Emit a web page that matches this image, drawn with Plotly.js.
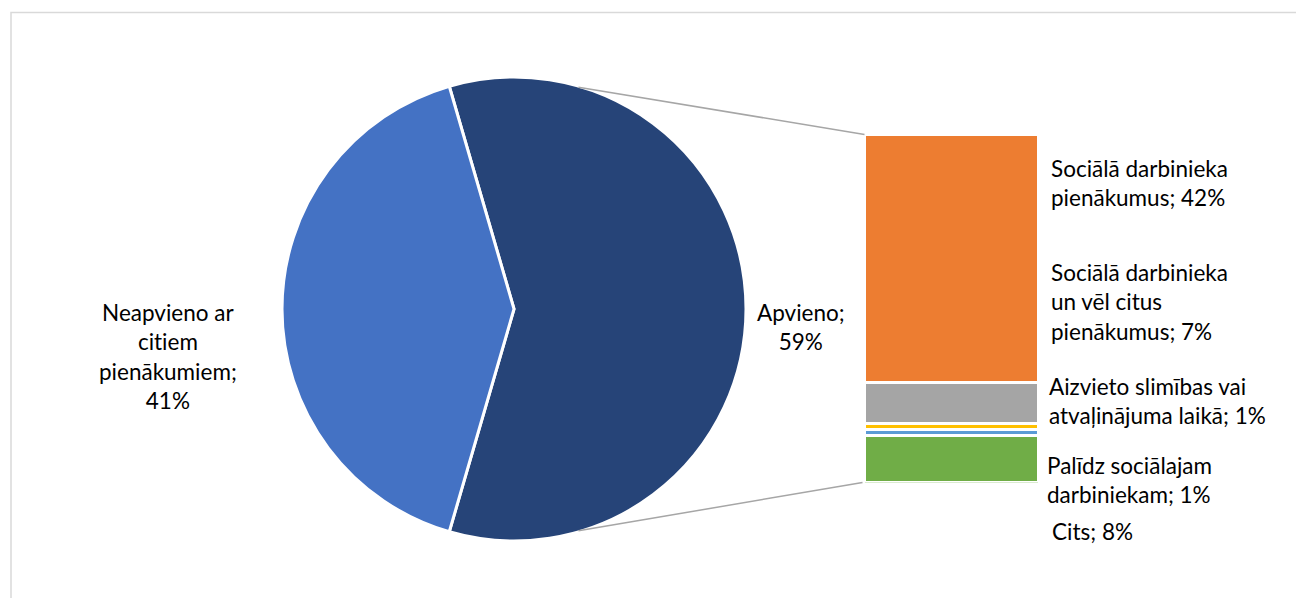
<!DOCTYPE html>
<html>
<head>
<meta charset="utf-8">
<script src="https://cdn.plot.ly/plotly-3.0.1.min.js"></script>
<style>
  html, body { margin: 0; padding: 0; background: #fff; }
  #chart { width: 1296px; height: 598px; }
  #chart text { font-variant-ligatures: none; font-feature-settings: "liga" 0; }
</style>
</head>
<body>
<div id="chart"></div>
<script>
// ---- data ----
const pieLabels = ['Apvieno', 'Neapvieno ar<br>citiem<br>pienākumiem'];
const pieValues = [59, 41];
const pieColors = ['#264478', '#4472C4'];

const barLabels = [
  'Sociālā darbinieka<br>pienākumus',
  'Sociālā darbinieka<br>un vēl citus<br>pienākumus',
  'Aizvieto slimības vai<br>atvaļinājuma laikā',
  'Palīdz sociālajam<br>darbiniekam',
  'Cits'
];
const barValues = [42, 7, 1, 1, 8];
const barColors = ['#ED7D31', '#A5A5A5', '#FFC000', '#5B9BD5', '#70AD47'];

// ---- layout geometry (pixels) ----
const W = 1296, H = 598;
const pie = { cx: 514, cy: 309, r: 232 };
const bar = { x0: 864.5, x1: 1038, y0: 134.5, y1: 482.5 };
const px = x => x / W;
const py = y => (H - y) / H;

const total = pieValues.reduce((a, b) => a + b, 0);
const half = pieValues[0] / total * 180;       // half-angle of the exploded slice
const rotation = 90 - half;                      // centre slice on 3 o'clock

const traces = [];
traces.push({
  type: 'pie',
  labels: pieLabels,
  values: pieValues,
  sort: false,
  direction: 'clockwise',
  rotation: rotation,
  marker: { colors: pieColors, line: { color: '#ffffff', width: 3 } },
  textinfo: 'none',
  hoverinfo: 'label+percent',
  showlegend: false,
  domain: { x: [px(pie.cx - pie.r), px(pie.cx + pie.r)], y: [py(pie.cy + pie.r), py(pie.cy - pie.r)] }
});

// stacked bar, bottom segment first
for (let i = barValues.length - 1; i >= 0; i--) {
  traces.push({
    type: 'bar',
    x: [0],
    y: [barValues[i]],
    width: 1,
    name: barLabels[i],
    marker: { color: barColors[i], line: { color: '#ffffff', width: 3 } },
    hoverinfo: 'name+y',
    showlegend: false,
    xaxis: 'x', yaxis: 'y'
  });
}
const barTotal = barValues.reduce((a, b) => a + b, 0);

// connector lines from pie edge to bar corners
const rEdge = pie.r - 1;
const ang = Math.abs(90 - half) * Math.PI / 180;
const pTop = [pie.cx + rEdge * Math.sin(ang), pie.cy - rEdge * Math.cos(ang)];
const pBot = [pie.cx + rEdge * Math.sin(ang), pie.cy + rEdge * Math.cos(ang)];

const shapes = [
  { type: 'rect', xref: 'paper', yref: 'paper', x0: px(11), x1: px(1310), y0: py(620), y1: py(12.5),
    line: { color: '#D9D9D9', width: 1.5 }, fillcolor: 'rgba(0,0,0,0)', layer: 'below' },
  { type: 'line', xref: 'paper', yref: 'paper', x0: px(pTop[0]), y0: py(pTop[1]), x1: px(bar.x0), y1: py(bar.y0),
    line: { color: '#A6A6A6', width: 1.5 } },
  { type: 'line', xref: 'paper', yref: 'paper', x0: px(pBot[0]), y0: py(pBot[1]), x1: px(bar.x0 - 2), y1: py(bar.y1),
    line: { color: '#A6A6A6', width: 1.5 } }
];

const font = { family: 'Lato, "Open Sans", sans-serif', size: 22.5, color: '#000000' };
const ann = (text, x, y, xanchor, align) => ({
  text, xref: 'paper', yref: 'paper', x: px(x), y: py(y),
  xanchor, yanchor: 'middle', align, showarrow: false, font
});
const pct = v => Math.round(v / total * 100) + '%';

const annotations = [
  ann(pieLabels[1] + ';<br>' + pct(pieValues[1]), 168, 357, 'center', 'center'),
  ann(pieLabels[0] + ';<br>' + pct(pieValues[0]), 801, 327, 'center', 'center'),
  ann(barLabels[0] + '; ' + barValues[0] + '%', 1049, 183, 'left', 'left'),
  ann(barLabels[1] + '; ' + barValues[1] + '%', 1049, 302, 'left', 'left'),
  ann(barLabels[2] + '; ' + barValues[2] + '%', 1047, 401, 'left', 'left'),
  ann(barLabels[3] + '; ' + barValues[3] + '%', 1045, 480, 'left', 'left'),
  ann(barLabels[4] + '; ' + barValues[4] + '%', 1050, 531, 'left', 'left')
];

const layout = {
  width: W, height: H,
  margin: { l: 0, r: 0, t: 0, b: 0 },
  paper_bgcolor: '#ffffff',
  plot_bgcolor: 'rgba(0,0,0,0)',
  barmode: 'stack',
  bargap: 0,
  xaxis: { domain: [px(bar.x0), px(bar.x1)], range: [-0.5, 0.5], visible: false, fixedrange: true },
  yaxis: { domain: [py(bar.y1), py(bar.y0)], range: [0, barTotal], visible: false, fixedrange: true },
  shapes, annotations,
  showlegend: false
};

Plotly.newPlot('chart', traces, layout, { displayModeBar: false, staticPlot: true });
</script>
</body>
</html>
